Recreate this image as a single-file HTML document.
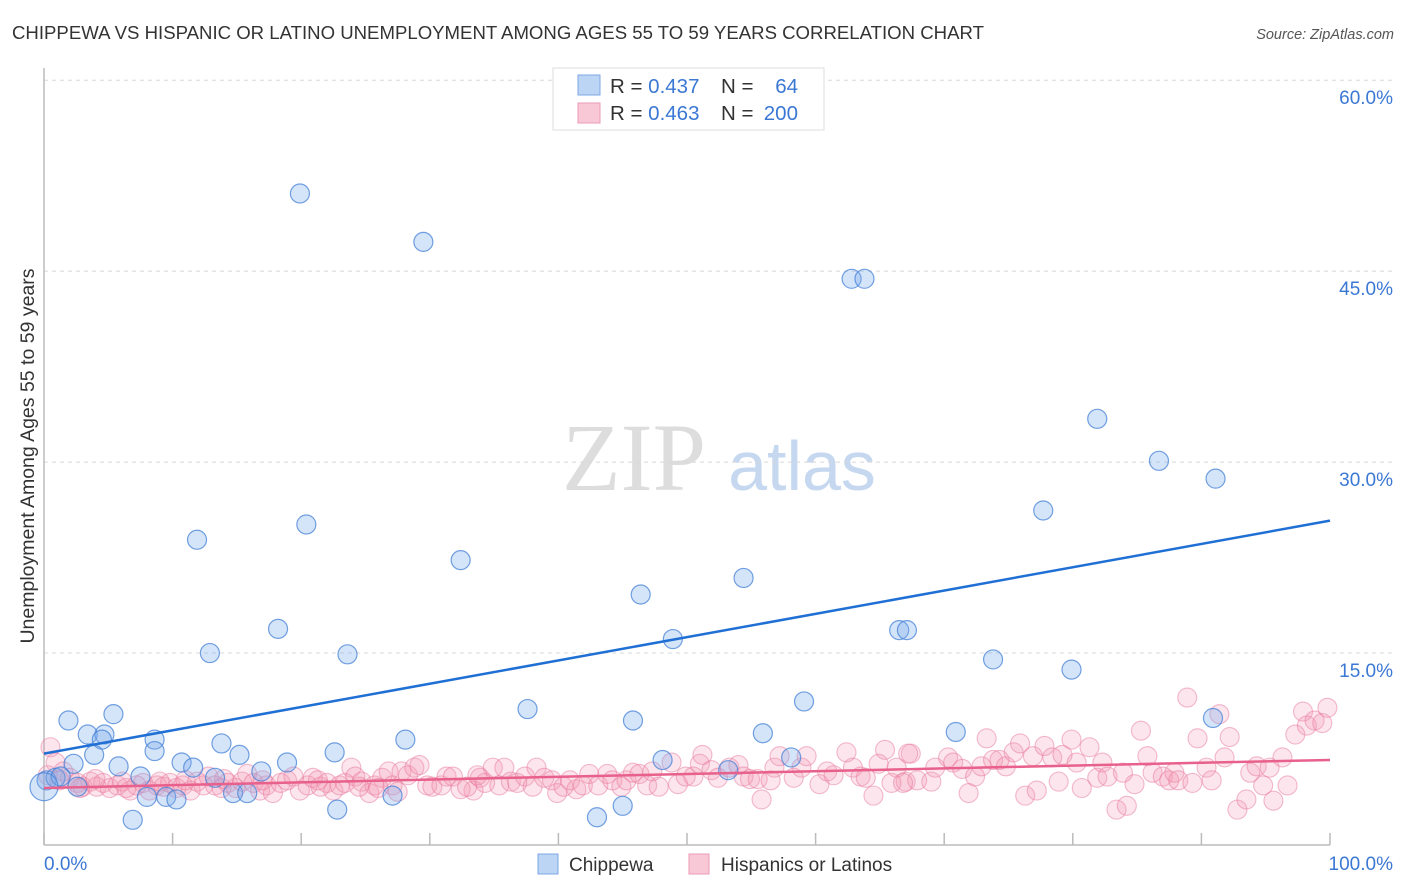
<!DOCTYPE html>
<html><head><meta charset="utf-8"><style>
body{margin:0;background:#fff;font-family:"Liberation Sans",sans-serif;}
svg{display:block}
</style></head><body>
<svg id="chart" width="1406" height="892" xmlns="http://www.w3.org/2000/svg">
<text x="12" y="39" font-size="18.6" fill="#333">CHIPPEWA VS HISPANIC OR LATINO UNEMPLOYMENT AMONG AGES 55 TO 59 YEARS CORRELATION CHART</text>
<text x="1394" y="39" font-size="14.5" fill="#555" font-style="italic" text-anchor="end">Source: ZipAtlas.com</text>
<g>
<text x="634" y="490" font-size="96" fill="#ddd" font-family="Liberation Serif,serif" text-anchor="middle">ZIP</text>
<text x="802" y="490" font-size="70" fill="#c5d8f0" text-anchor="middle">atlas</text>
</g>
<g id="grid"></g>
<g id="axes"></g>
<g id="pts"></g>
<g id="lines"></g>
<text x="-456" y="34" transform="rotate(-90)" font-size="19.5" fill="#333" text-anchor="middle">Unemployment Among Ages 55 to 59 years</text>
<text x="44" y="870" font-size="19" fill="#3b78d4">0.0%</text>
<text x="1393" y="870" font-size="19" fill="#3b78d4" text-anchor="end">100.0%</text>
<g>
<rect x="553" y="68" width="271" height="62" fill="#fff" stroke="#ddd"/>
<rect x="578" y="75" width="22" height="20" fill="#bcd5f5" stroke="#7ea8e4"/>
<rect x="578" y="103" width="22" height="20" fill="#f9c8d7" stroke="#eb9ab4"/>
<text x="610" y="93" font-size="20.5" fill="#333">R = <tspan fill="#3b78d4">0.437</tspan></text>
<text x="721" y="93" font-size="20.5" fill="#333">N =</text>
<text x="798" y="93" font-size="20.5" fill="#3b78d4" text-anchor="end">64</text>
<text x="610" y="120" font-size="20.5" fill="#333">R = <tspan fill="#3b78d4">0.463</tspan></text>
<text x="721" y="120" font-size="20.5" fill="#333">N =</text>
<text x="798" y="120" font-size="20.5" fill="#3b78d4" text-anchor="end">200</text>
</g>
<g>
<rect x="538" y="854" width="20" height="20" fill="#bcd5f5" stroke="#7ea8e4"/>
<text x="569" y="871" font-size="19" fill="#333">Chippewa</text>
<rect x="689" y="854" width="20" height="20" fill="#f9c8d7" stroke="#eb9ab4"/>
<text x="721" y="871" font-size="19" fill="#333">Hispanics or Latinos</text>
</g>
</svg>
<script>
const yTicks=[15,30,45,60];
const yTickLabels=["15.0%","30.0%","45.0%","60.0%"];
const xTicks=[0,10,20,30,40,50,60,70,80,90,100];
const chipX=[19.9,29.5,62.8,63.8,81.9,86.7,91.1,77.7,20.4,11.9,32.4,54.4,46.4,18.2,48.9,66.5,67.1,12.9,23.6,73.8,79.9,37.6,59.1,1.9,5.4,45.8,70.9,90.9,3.4,4.7,4.5,8.6,55.9,8.6,13.8,28.1,22.6,3.9,15.2,2.3,5.8,10.7,11.6,18.9,48.1,58.1,16.9,53.2,7.5,13.3,0.2,0.9,1.3,2.6,14.7,8.0,9.5,10.3,15.8,27.1,22.8,45.0,6.9,43.0];
const chipY=[51.1,47.3,44.4,44.4,33.4,30.1,28.7,26.2,25.1,23.9,22.3,20.9,19.6,16.9,16.1,16.8,16.8,15.0,14.9,14.5,13.7,10.6,11.2,9.7,10.2,9.7,8.8,9.9,8.6,8.6,8.2,8.2,8.7,7.3,7.9,8.2,7.2,7.0,7.0,6.3,6.1,6.4,6.0,6.4,6.6,6.8,5.7,5.8,5.3,5.2,5.0,5.2,5.3,4.5,4.0,3.7,3.7,3.5,4.0,3.8,2.7,3.0,1.9,2.1];
const hispX=[67.4,67.0,67.9,69.0,69.3,70.3,70.7,71.4,71.9,72.4,72.9,73.3,73.8,74.3,74.8,75.4,75.9,76.3,77.2,76.9,77.8,78.4,78.9,79.2,79.9,80.3,80.7,81.3,81.9,82.3,82.7,83.4,84.2,83.9,84.8,85.3,85.8,86.2,87.0,87.5,87.9,88.2,88.9,89.3,89.7,90.4,90.8,91.4,91.8,92.2,92.8,93.5,93.8,94.3,94.8,95.3,95.6,96.3,96.7,97.3,97.9,98.2,98.8,99.4,99.8,
33.4,33.9,34.3,34.9,35.4,35.8,36.3,36.8,37.4,38.0,38.3,38.9,39.5,39.9,40.4,40.9,41.4,41.9,42.4,43.1,43.8,44.2,44.9,45.3,45.8,46.3,46.9,47.3,47.8,48.8,49.3,49.9,50.5,51.0,51.2,51.9,52.4,53.3,54.0,54.4,54.9,55.5,55.8,56.5,56.8,57.2,58.3,58.9,59.3,60.3,60.9,61.4,62.4,62.9,63.5,63.9,64.5,64.9,65.4,65.9,66.3,66.8,67.2,
0.5,0.9,1.5,2.0,2.6,3.0,3.6,4.1,4.6,5.1,5.7,6.1,6.7,7.2,7.7,8.2,8.8,9.3,9.8,10.3,10.8,11.4,11.9,12.4,12.8,13.3,13.8,14.3,14.9,15.4,15.8,16.3,16.8,17.3,17.8,18.4,18.9,19.4,19.9,20.5,20.9,21.5,22.0,22.5,23.0,23.4,23.9,24.2,24.7,25.3,25.7,26.3,26.8,27.1,27.5,27.8,28.3,28.8,29.2,29.8,30.2,30.9,31.3,31.8,32.4,32.9,33.7,0.3,1.2,2.8,4.0,6.4,9.0,11.0,14.0,17.0,21.3,24.5,26.0];
const hispY=[7.1,4.9,5.0,4.9,6.0,6.8,6.4,5.9,4.0,5.3,6.1,8.3,6.6,6.6,6.1,7.2,7.9,3.8,4.2,6.9,7.7,6.8,4.9,7.0,8.2,6.4,4.4,7.6,5.2,6.4,5.3,2.7,3.0,5.6,4.7,8.9,6.9,5.6,5.3,5.0,5.6,5.0,11.5,4.8,8.3,6.0,5.0,10.2,6.8,8.4,2.7,3.5,5.6,6.1,4.6,6.0,3.4,6.8,4.6,8.6,10.4,9.3,9.7,9.5,10.7,
4.2,5.2,4.8,6.0,4.6,6.0,4.9,4.8,5.3,4.5,6.0,5.2,5.0,4.0,4.5,5.0,4.3,4.6,5.5,4.6,5.5,5.0,4.5,5.0,5.6,5.5,4.6,5.7,4.5,6.4,4.7,5.3,5.3,6.3,7.0,5.8,5.2,6.0,6.2,5.3,5.1,5.1,3.5,5.0,6.0,6.9,5.2,6.0,6.9,4.7,5.7,5.4,7.2,6.0,5.3,5.2,3.8,6.3,7.4,4.8,6.0,4.8,7.1,
7.6,6.4,5.7,5.2,4.8,4.5,4.9,4.5,4.8,4.4,4.6,4.9,4.2,4.6,4.8,4.2,4.6,4.5,4.8,4.4,4.6,4.2,4.9,4.6,5.3,4.6,4.4,4.8,4.4,4.9,5.5,4.8,4.2,4.6,4.0,4.8,5.0,5.3,4.2,4.6,5.2,4.5,4.8,4.2,4.6,4.8,6.0,5.3,4.9,4.0,4.6,5.2,5.7,4.6,4.1,5.7,5.4,6.0,6.2,4.6,4.5,4.6,5.3,5.3,4.3,4.5,5.4,5.4,5.0,4.4,5.1,4.4,4.9,5.0,5.1,5.0,5.0,4.5,4.4];
const chipTrend=[7.1,25.4];
const hispTrend=[4.4,6.6];
const NS="http://www.w3.org/2000/svg";
const X=v=>44+v*12.86;
const Y=v=>844-v*12.73;
function mk(tag,attrs,parent){const e=document.createElementNS(NS,tag);for(const k in attrs)e.setAttribute(k,attrs[k]);parent.appendChild(e);return e;}
const grid=document.getElementById('grid'),axes=document.getElementById('axes'),pts=document.getElementById('pts'),lines=document.getElementById('lines');
yTicks.forEach((t,i)=>{
 const l=mk('line',{x1:44,x2:1394,y1:Y(t),y2:Y(t),stroke:'#d8d8d8','stroke-dasharray':'4,4'},grid);
 
 
 const tx=mk('text',{x:1393,y:Y(t)+24,'font-size':19,fill:'#3b78d4','text-anchor':'end'},grid);
 tx.textContent=yTickLabels[i];
 
 
});
const ya=mk('line',{x1:44,x2:44,y1:68,y2:845,stroke:'#bbb','stroke-width':1.5},axes);


const xa=mk('line',{x1:44,x2:1330,y1:845,y2:845,stroke:'#bbb','stroke-width':1.5},axes);


xTicks.forEach(t=>{
 const tk=mk('line',{x1:X(t),x2:X(t),y1:833,y2:845,stroke:'#bbb','stroke-width':1.5},axes);
 
 
});
hispX.forEach((x,i)=>{
 const c=mk('circle',{cx:X(x),cy:Y(hispY[i]),r:9.5,fill:'rgba(244,150,178,0.25)',stroke:'rgba(232,120,158,0.5)','stroke-width':1.1},pts);
 
 
});
chipX.forEach((x,i)=>{
 const c=mk('circle',{cx:X(x),cy:Y(chipY[i]),r:9.5,fill:'rgba(120,170,235,0.32)',stroke:'rgba(70,130,215,0.75)','stroke-width':1.2},pts);
 
 
});
const big=mk('circle',{cx:X(0),cy:Y(4.5),r:14,fill:'rgba(120,170,235,0.32)',stroke:'rgba(70,130,215,0.75)','stroke-width':1.2},pts);


const l1=mk('line',{x1:X(0),y1:Y(chipTrend[0]),x2:X(100),y2:Y(chipTrend[1]),stroke:'#1f6fd4','stroke-width':2.5},lines);


const l2=mk('line',{x1:X(0),y1:Y(hispTrend[0]),x2:X(100),y2:Y(hispTrend[1]),stroke:'#e8608c','stroke-width':2.5},lines);


</script>
</body></html>
